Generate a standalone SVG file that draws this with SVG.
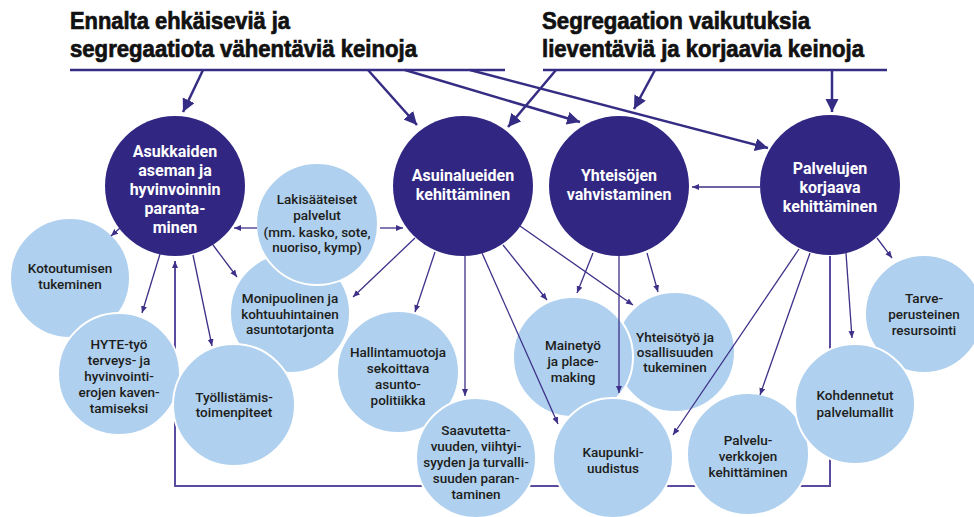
<svg xmlns="http://www.w3.org/2000/svg" width="974" height="517" viewBox="0 0 974 517">
<style>
.hd{font-family:"Liberation Sans",Arial,sans-serif;font-weight:700;font-size:23px;fill:#111;stroke:#111;stroke-width:0.7}
.rule{stroke:#352c84;stroke-width:2.5;fill:none}
.big{stroke:#352c84;stroke-width:2.5;fill:none;marker-end:url(#ab)}
.sm{stroke:#3d3088;stroke-width:1.3;fill:none;marker-end:url(#as)}
.loop{stroke:#5a4b9f;stroke-width:2;fill:none;marker-end:url(#as)}
.main circle{fill:#312782}
.lt circle{fill:#afd0ee;stroke:#fff;stroke-width:2}
.main text{font-family:Roboto,"Liberation Sans",sans-serif;font-weight:700;font-size:16px;fill:#fff;text-anchor:middle}
.lt text{font-family:Roboto,"Liberation Sans",sans-serif;font-weight:500;font-size:13.5px;fill:#1d1d1b;text-anchor:middle}
</style>
<defs>
<marker id="ab" markerUnits="userSpaceOnUse" markerWidth="14" markerHeight="14" refX="13" refY="6.5" orient="auto"><path d="M0,0 L13,6.5 L0,13 z" fill="#352c84"/></marker>
<marker id="as" markerUnits="userSpaceOnUse" markerWidth="8" markerHeight="7" refX="7" refY="3" orient="auto"><path d="M0,0 L7,3 L0,6 z" fill="#3d3088"/></marker>
</defs>
<rect width="974" height="517" fill="#fff"/>
<g id="headers">
<text class="hd" x="70" y="29" textLength="220" lengthAdjust="spacingAndGlyphs">Ennalta ehkäiseviä ja</text>
<text class="hd" x="70" y="57" textLength="347" lengthAdjust="spacingAndGlyphs">segregaatiota vähentäviä keinoja</text>
<text class="hd" x="542" y="29" textLength="268" lengthAdjust="spacingAndGlyphs">Segregaation vaikutuksia</text>
<text class="hd" x="542" y="57" textLength="322" lengthAdjust="spacingAndGlyphs">lieventäviä ja korjaavia keinoja</text>
<line class="rule" x1="70" y1="70" x2="505" y2="70"/>
<line class="rule" x1="543" y1="70" x2="887" y2="70"/>
</g>
<g id="connectors-back">
<path class="loop" d="M830,256 V486 H175 V261"/>
</g>
<g id="n1" class="main"><circle cx="175" cy="186" r="70"/>
<text x="175" y="157">Asukkaiden</text><text x="175" y="176">aseman ja</text><text x="175" y="195">hyvinvoinnin</text><text x="175" y="214">paranta-</text><text x="175" y="233">minen</text></g>
<g id="n2" class="main"><circle cx="463" cy="186" r="70"/>
<text x="463" y="181">Asuinalueiden</text><text x="463" y="200">kehittäminen</text></g>
<g id="n3" class="main"><circle cx="619" cy="186" r="70"/>
<text x="619" y="181">Yhteisöjen</text><text x="619" y="200">vahvistaminen</text></g>
<g id="n4" class="main"><circle cx="830" cy="185" r="70"/>
<text x="830" y="174">Palvelujen</text><text x="830" y="193">korjaava</text><text x="830" y="212">kehittäminen</text></g>
<g id="kotoutuminen" class="lt"><circle cx="70" cy="278" r="60"/>
<text x="70" y="273">Kotoutumisen</text><text x="70" y="289">tukeminen</text></g>
<g id="hyte" class="lt"><circle cx="119" cy="374" r="61"/>
<text x="119" y="349">HYTE-työ</text><text x="119" y="365">terveys- ja</text><text x="119" y="381">hyvinvointi-</text><text x="119" y="397">erojen kaven-</text><text x="119" y="413">tamiseksi</text></g>
<g id="monipuolinen" class="lt"><circle cx="290" cy="313" r="60"/>
<text x="290" y="303">Monipuolinen ja</text><text x="290" y="319">kohtuuhintainen</text><text x="290" y="334">asuntotarjonta</text></g>
<g id="tyollistamis" class="lt"><circle cx="234" cy="405" r="61"/>
<text x="234" y="402">Työllistämis-</text><text x="234" y="417">toimenpiteet</text></g>
<g id="lakisaateiset" class="lt"><circle cx="317" cy="224" r="61"/>
<text x="317" y="204">Lakisääteiset</text><text x="317" y="220">palvelut</text><text x="317" y="237">(mm. kasko, sote,</text><text x="317" y="252">nuoriso, kymp)</text></g>
<g id="hallintamuotoja" class="lt"><circle cx="398" cy="372" r="61"/>
<text x="398" y="357">Hallintamuotoja</text><text x="398" y="373">sekoittava</text><text x="398" y="389">asunto-</text><text x="398" y="405">politiikka</text></g>
<g id="saavutettavuus" class="lt"><circle cx="476" cy="458" r="60"/>
<text x="476" y="435">Saavutetta-</text><text x="476" y="451">vuuden, viihtyi-</text><text x="476" y="467">syyden ja turvalli-</text><text x="476" y="483">suuden paran-</text><text x="476" y="499">taminen</text></g>
<g id="yhteisotyo" class="lt"><circle cx="675" cy="352" r="60"/>
<text x="675" y="342">Yhteisötyö ja</text><text x="675" y="357">osallisuuden</text><text x="675" y="372">tukeminen</text></g>
<g id="mainetyo" class="lt"><circle cx="573" cy="357" r="60"/>
<text x="573" y="350">Mainetyö</text><text x="573" y="366">ja place-</text><text x="573" y="382">making</text></g>
<g id="kaupunki" class="lt"><circle cx="613" cy="458" r="60"/>
<text x="613" y="457">Kaupunki-</text><text x="613" y="473">uudistus</text></g>
<g id="palveluverkot" class="lt"><circle cx="748" cy="454" r="61"/>
<text x="748" y="445">Palvelu-</text><text x="748" y="461">verkkojen</text><text x="748" y="477">kehittäminen</text></g>
<g id="tarve" class="lt"><circle cx="924" cy="314" r="59"/>
<text x="924" y="303">Tarve-</text><text x="924" y="319">perusteinen</text><text x="924" y="335">resursointi</text></g>
<g id="kohdennetut" class="lt"><circle cx="855" cy="404" r="60"/>
<text x="855" y="400">Kohdennetut</text><text x="855" y="417">palvelumallit</text></g>
<g id="connectors">
<line class="big" x1="203" y1="70" x2="183" y2="112"/>
<line class="big" x1="368" y1="70" x2="417" y2="125"/>
<line class="big" x1="405" y1="70" x2="580" y2="122"/>
<line class="big" x1="470" y1="70" x2="768" y2="148"/>
<line class="big" x1="556" y1="70" x2="508" y2="127"/>
<line class="big" x1="655" y1="70" x2="634" y2="109"/>
<line class="big" x1="832" y1="70" x2="832" y2="112"/>
<line class="sm" x1="120" y1="228" x2="111" y2="236"/>
<line class="sm" x1="160" y1="254" x2="142" y2="313"/>
<line class="sm" x1="193" y1="255" x2="212" y2="346"/>
<line class="sm" x1="213" y1="245" x2="237" y2="277"/>
<line class="sm" x1="257" y1="228" x2="234" y2="228"/>
<line class="sm" x1="380" y1="228" x2="403" y2="228"/>
<line class="sm" x1="415" y1="238" x2="353" y2="297"/>
<line class="sm" x1="435" y1="252" x2="415" y2="312"/>
<line class="sm" x1="465" y1="256" x2="465" y2="396"/>
<line class="sm" x1="482" y1="253" x2="558" y2="424"/>
<line class="sm" x1="503" y1="245" x2="547" y2="300"/>
<line class="sm" x1="520" y1="226" x2="633" y2="305"/>
<line class="sm" x1="593" y1="253" x2="577" y2="293"/>
<line class="sm" x1="619" y1="256" x2="619" y2="393"/>
<line class="sm" x1="647" y1="253" x2="658" y2="292"/>
<line class="sm" x1="760" y1="187" x2="692" y2="187"/>
<line class="sm" x1="799" y1="249" x2="673" y2="435"/>
<line class="sm" x1="810" y1="253" x2="760" y2="395"/>
<line class="sm" x1="846" y1="253" x2="852" y2="338"/>
<line class="sm" x1="877" y1="238" x2="892" y2="258"/>
</g>
</svg>
